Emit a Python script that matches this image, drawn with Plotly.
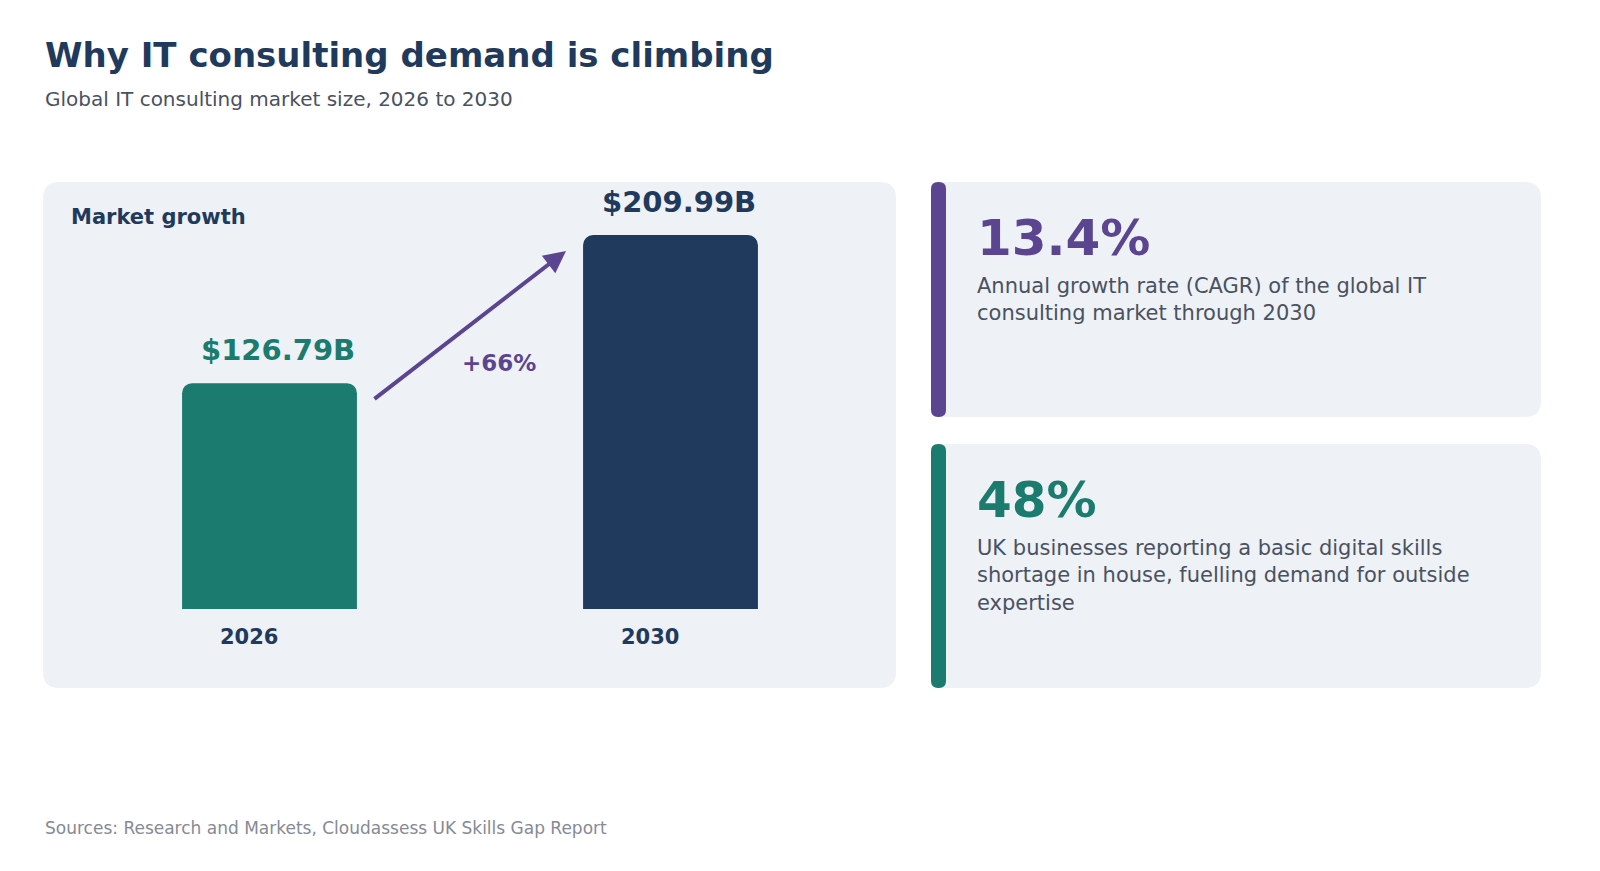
import plotly.graph_objects as go

W, H = 1600, 871

years = ["2026", "2030"]
market_size = [126.79, 209.99]
value_labels = ["$126.79B", "$209.99B"]
bar_colors = ["#1b7b6e", "#1f3a5c"]
growth_label = "+66%"

stats = ["13.4%", "48%"]
stat_texts = [
    "Annual growth rate (CAGR) of the global IT<br>consulting market through 2030",
    "UK businesses reporting a basic digital skills<br>shortage in house, fuelling demand for outside<br>expertise",
]
stat_colors = ["#5b4590", "#1b7b6e"]

NAVY = "#1f3a5c"
PANEL = "#eef1f6"
FONT = "DejaVu Sans"


def px(x):
    return x / W


def py(y):
    return 1 - y / H


def rrect(x0, y0, x1, y1, r):
    # rounded rectangle path in paper coords from pixel box
    pts = [
        f"M {px(x0 + r)} {py(y0)}",
        f"L {px(x1 - r)} {py(y0)}",
        f"Q {px(x1)} {py(y0)} {px(x1)} {py(y0 + r)}",
        f"L {px(x1)} {py(y1 - r)}",
        f"Q {px(x1)} {py(y1)} {px(x1 - r)} {py(y1)}",
        f"L {px(x0 + r)} {py(y1)}",
        f"Q {px(x0)} {py(y1)} {px(x0)} {py(y1 - r)}",
        f"L {px(x0)} {py(y0 + r)}",
        f"Q {px(x0)} {py(y0)} {px(x0 + r)} {py(y0)}",
        "Z",
    ]
    return " ".join(pts)


fig = go.Figure()

fig.add_trace(go.Bar(
    x=[0, 1], y=market_size, width=0.436,
    marker=dict(color=bar_colors, cornerradius=10, line_width=0),
    hoverinfo="skip",
))

shapes = [
    dict(type="path", path=rrect(35, 174, 888, 680, 16), xref="paper", yref="paper",
         fillcolor=PANEL, line_width=0, layer="below"),
]
card_boxes = [(923, 174, 1533, 409), (923, 436, 1533, 680)]
for (x0, y0, x1, y1), c in zip(card_boxes, stat_colors):
    shapes.append(dict(type="path", path=rrect(x0, y0, x1, y1, 16), xref="paper", yref="paper",
                       fillcolor=PANEL, line_width=0, layer="below"))
    shapes.append(dict(type="path", path=rrect(x0, y0, x0 + 15, y1, 7), xref="paper", yref="paper",
                       fillcolor=c, line_width=0, layer="below"))

ann = [
    dict(text="<b>Why IT consulting demand is climbing</b>", x=px(35), y=py(47), xanchor="left",
         yanchor="middle", font=dict(size=34, color=NAVY)),
    dict(text="Global IT consulting market size, 2026 to 2030", x=px(35), y=py(91), xanchor="left",
         yanchor="middle", font=dict(size=20, color="#4a5160")),
    dict(text="Sources: Research and Markets, Cloudassess UK Skills Gap Report", x=px(35), y=py(820),
         xanchor="left", yanchor="middle", font=dict(size=17, color="#858a94")),
    dict(text="<b>Market growth</b>", x=px(61), y=py(209), xanchor="left", yanchor="middle",
         font=dict(size=21, color=NAVY)),
]
for i, (v, lab, c) in enumerate(zip(market_size, value_labels, bar_colors)):
    ann.append(dict(text=f"<b>{lab}</b>", x=i, y=v, xref="x", yref="y", yanchor="bottom",
                    yshift=14, xshift=8, showarrow=False, font=dict(size=29, color=c)))
    ann.append(dict(text=f"<b>{years[i]}</b>", x=i, y=0, xref="x", yref="y", yanchor="top",
                    yshift=-14, xshift=-21, showarrow=False, font=dict(size=21, color=NAVY)))
ann.append(dict(x=px(558), y=py(243), ax=365 - 558, ay=392 - 243, axref="pixel", ayref="pixel",
                text="", showarrow=True, arrowhead=2, arrowsize=1.1, arrowwidth=4,
                arrowcolor=stat_colors[0]))
ann.append(dict(text=f"<b>{growth_label}</b>", x=px(452), y=py(355), font=dict(size=23, color=stat_colors[0])))

for (x0, y0, x1, y1), s, t, c in zip(card_boxes, stats, stat_texts, stat_colors):
    ann.append(dict(text=f"<b>{s}</b>", x=px(967), y=py(y0 + 56), xanchor="left", yanchor="middle",
                    font=dict(size=50, color=c)))
    ann.append(dict(text=t, x=px(967), y=py(y0 + 90), xanchor="left", yanchor="top", align="left",
                    font=dict(size=21, color="#4a5160")))

for a in ann:
    a.setdefault("xref", "paper")
    a.setdefault("yref", "paper")
    a.setdefault("showarrow", False)

fig.update_layout(
    width=W, height=H, margin=dict(l=0, r=0, t=0, b=0),
    paper_bgcolor="white", plot_bgcolor="rgba(0,0,0,0)",
    font=dict(family=FONT), showlegend=False,
    shapes=shapes, annotations=ann,
    xaxis=dict(domain=[px(61), px(863)], range=[-0.5, 1.5], visible=False, fixedrange=True),
    yaxis=dict(domain=[py(601), py(155.7)], range=[0, 250], visible=False, fixedrange=True),
)

fig.write_html("out.html")
